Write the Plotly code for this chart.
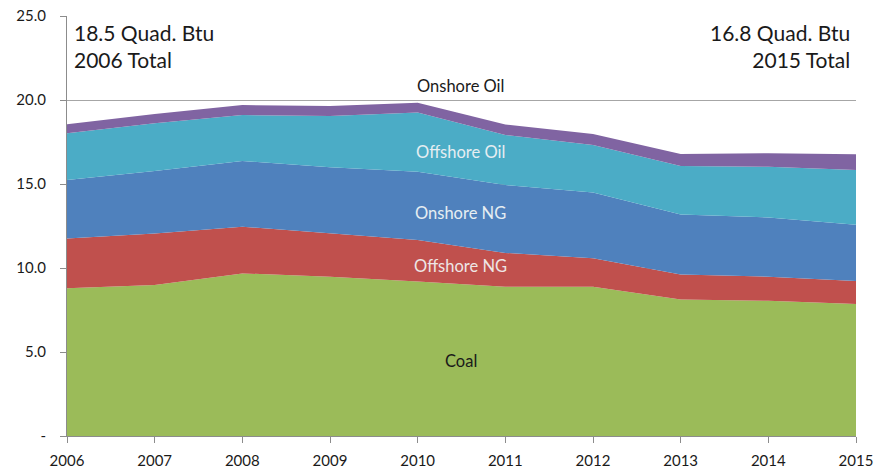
import plotly.graph_objects as go

years = [2006, 2007, 2008, 2009, 2010, 2011, 2012, 2013, 2014, 2015]
coal = [8.79, 8.99, 9.68, 9.48, 9.19, 8.89, 8.89, 8.13, 8.05, 7.86]
offshore_ng = [2.96, 3.07, 2.78, 2.58, 2.48, 2.01, 1.69, 1.49, 1.43, 1.37]
onshore_ng = [3.49, 3.71, 3.91, 3.93, 4.06, 4.04, 3.92, 3.57, 3.53, 3.35]
offshore_oil = [2.78, 2.84, 2.73, 3.06, 3.52, 2.98, 2.82, 2.88, 3.02, 3.25]
onshore_oil = [0.53, 0.56, 0.60, 0.59, 0.59, 0.62, 0.66, 0.72, 0.80, 0.94]

series_names = ["Coal", "Offshore NG", "Onshore NG", "Offshore Oil", "Onshore Oil"]
series_values = [coal, offshore_ng, onshore_ng, offshore_oil, onshore_oil]
series_colors = ["#9BBB59", "#C0504D", "#4F81BD", "#4BACC6", "#8064A2"]

y_tickvals = [0, 5, 10, 15, 20, 25]
y_ticktext = ["-", "5.0", "10.0", "15.0", "20.0", "25.0"]

FONT = "Lato, 'Open Sans', sans-serif"

fig = go.Figure()
for name, vals, col in zip(series_names, series_values, series_colors):
    fig.add_trace(go.Scatter(
        x=years, y=vals, name=name, stackgroup="one", mode="lines",
        line=dict(width=0, color=col), fillcolor=col, showlegend=False,
        hoverinfo="x+y+name",
    ))

# in-chart series labels
labels = [
    ("Onshore Oil", 2010.49, 20.85, "#1a1a1a"),
    ("Offshore Oil", 2010.49, 16.9, "#E6EEF2"),
    ("Onshore NG", 2010.49, 13.27, "#E6EEF2"),
    ("Offshore NG", 2010.49, 10.12, "#EEE6E6"),
    ("Coal", 2010.49, 4.46, "#1a1a1a"),
]
for txt, xx, yy, c in labels:
    fig.add_annotation(x=xx, y=yy, xref="x", yref="y", text=txt, showarrow=False,
                       font=dict(family=FONT, size=16.5, color=c))

fig.add_annotation(x=0.006, y=0.995, xref="paper", yref="paper", xanchor="left", yanchor="top",
                   text="18.5 Quad. Btu<br>2006 Total", showarrow=False, align="left",
                   font=dict(family=FONT, size=21, color="#1a1a1a"))
fig.add_annotation(x=0.995, y=0.995, xref="paper", yref="paper", xanchor="right", yanchor="top",
                   text="16.8 Quad. Btu<br>2015 Total", showarrow=False, align="right",
                   font=dict(family=FONT, size=21, color="#1a1a1a"))

fig.update_layout(
    width=878, height=469,
    margin=dict(l=67, r=22, t=16, b=33, autoexpand=False),
    paper_bgcolor="white", plot_bgcolor="white",
    font=dict(family=FONT, size=15, color="#1a1a1a"),
    xaxis=dict(range=[2006, 2015], tickvals=years, ticktext=[str(y) for y in years],
               showgrid=False, zeroline=False, showline=True, linecolor="#8c8c8c", linewidth=1,
               ticks="outside", ticklen=6, tickcolor="#8c8c8c", tickfont=dict(size=15),
               ticklabelstandoff=5, automargin=False),
    yaxis=dict(range=[0, 25], tickvals=y_tickvals, ticktext=y_ticktext,
               showgrid=True, gridcolor="#a6a6a6", gridwidth=1, zeroline=False,
               showline=True, linecolor="#8c8c8c", linewidth=1,
               ticks="outside", ticklen=6, tickcolor="#8c8c8c", tickfont=dict(size=15),
               ticklabelstandoff=11, automargin=False),
)

fig.write_html("out.html", config={"displayModeBar": False},
               post_script="document.body.style.margin='0px';document.body.style.padding='0px';")
